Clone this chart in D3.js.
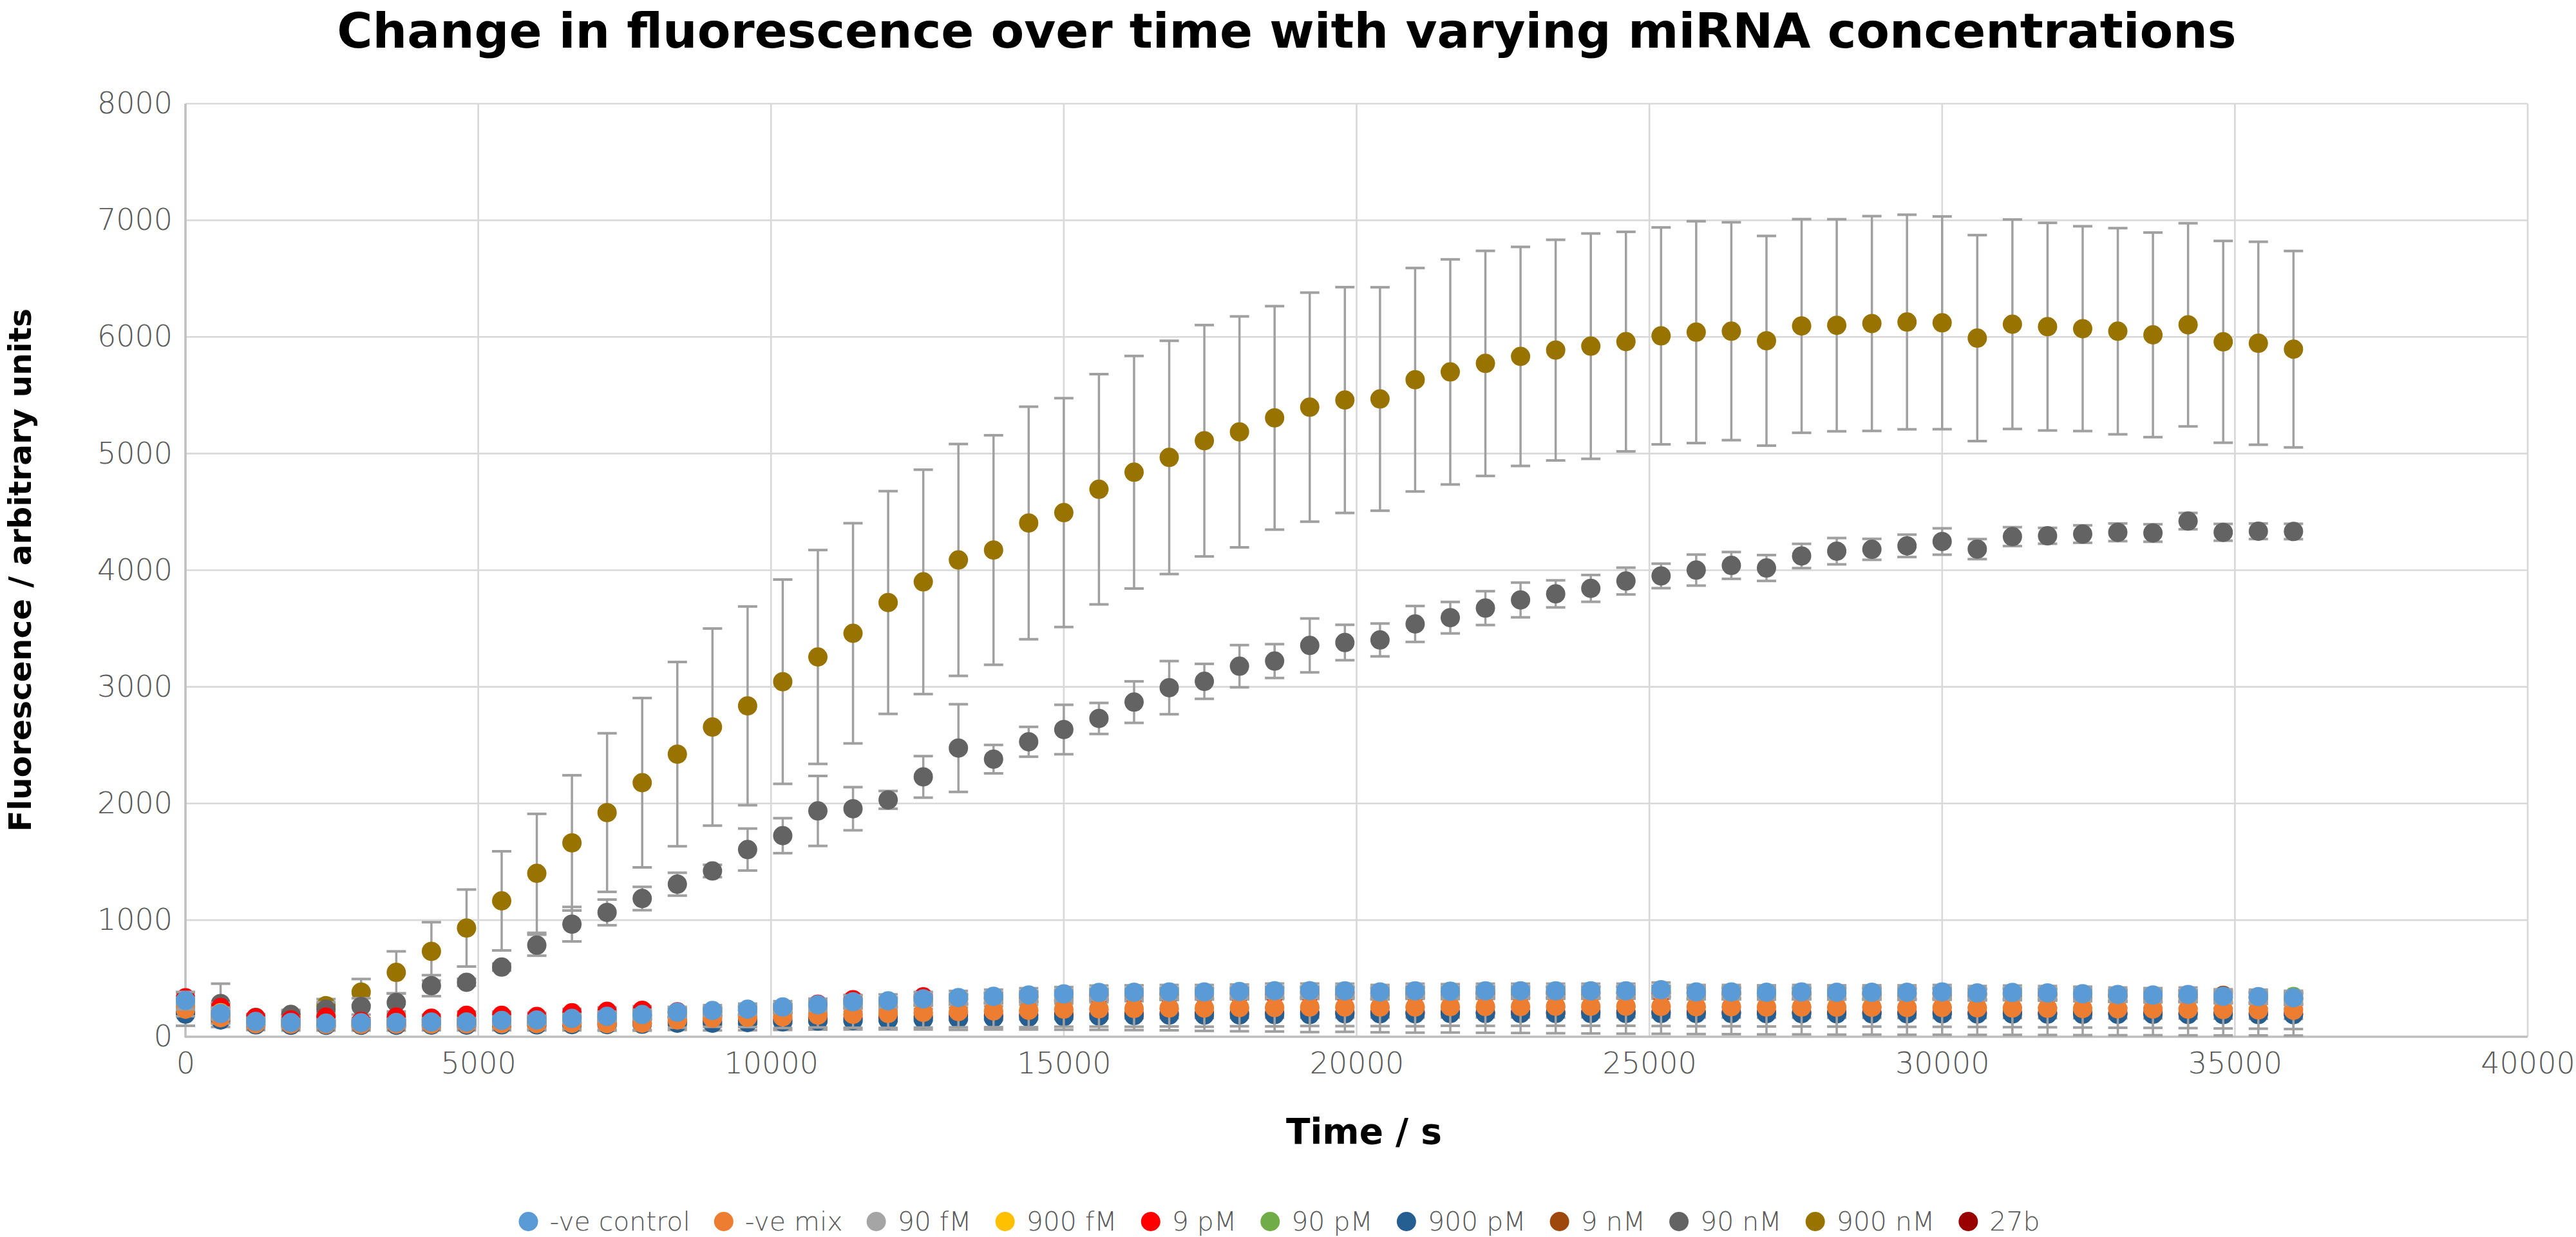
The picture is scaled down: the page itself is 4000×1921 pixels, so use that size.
<!DOCTYPE html>
<html>
<head>
<meta charset="utf-8">
<script src="https://cdn.jsdelivr.net/npm/d3@7"></script>
<style>
  body { margin: 0; background: #fff; }
  svg { display: block; }
</style>
</head>
<body>
<div id="chart"></div>
<script>
//data
var times = [0,600,1200,1800,2400,3000,3600,4200,4800,5400,
  6000,6600,7200,7800,8400,9000,9600,10200,10800,11400,
  12000,12600,13200,13800,14400,15000,15600,16200,16800,17400,
  18000,18600,19200,19800,20400,21000,21600,22200,22800,23400,
  24000,24600,25200,25800,26400,27000,27600,28200,28800,29400,
  30000,30600,31200,31800,32400,33000,33600,34200,34800,35400,
  36000];

var seriesNames = ['-ve control','-ve mix','90 fM','900 fM','9 pM','90 pM','900 pM','9 nM','90 nM','900 nM','27b'];
var seriesColors = ['#5B9BD5','#ED7D31','#A5A5A5','#FFC000','#FF0000','#70AD47','#255E91','#9E480E','#636363','#997300','#990000'];

var veControl = [310,200,131,122,116,120,122,126,126,140,
  144,157,175,190,211,225,236,255,274,300,
  308,325,336,346,358,367,379,381,384,384,
  388,395,395,394,384,394,390,394,394,394,
  394,394,403,384,384,381,384,381,381,381,
  384,375,379,375,369,362,357,362,347,344,
  334];
var veControlErr = [74,50,32,30,30,30,30,32,32,34,
  35,38,40,42,45,46,48,50,52,54,
  55,56,57,58,58,59,60,60,60,60,
  60,61,61,61,60,61,61,61,61,61,
  61,61,62,60,60,60,60,60,60,60,
  60,60,60,60,60,60,60,60,60,60,
  60];

var veMix = [236,163,111,108,106,106,108,108,110,112,
  112,115,112,116,144,160,168,170,185,192,
  200,209,216,222,227,236,240,242,246,246,
  251,251,255,255,255,255,259,259,259,261,
  261,262,260,258,258,255,255,253,253,250,
  250,248,246,244,242,240,238,236,233,230,
  227];
var veMixErr = [60,50,35,35,35,35,35,38,40,42,
  45,48,52,58,66,75,85,95,105,115,
  124,130,135,140,145,150,153,156,158,160,
  161,162,163,164,164,165,165,166,166,167,
  167,168,168,168,168,167,167,166,166,165,
  165,164,164,163,163,163,162,162,162,161,
  161];

var fM90 = [290,185,125,115,112,115,118,120,122,133,
  138,150,166,182,200,214,225,243,262,285,
  295,312,322,333,345,354,364,368,370,371,
  375,380,381,381,373,380,378,381,381,380,
  380,381,388,372,372,369,371,369,369,368,
  371,362,366,362,356,350,345,348,336,332,
  322];
var fM90Err = [40,35,25,25,25,25,25,26,26,28,
  28,30,30,32,34,35,36,38,40,42,
  42,44,45,46,46,47,48,48,48,48,
  49,49,49,50,50,50,50,50,50,50,
  50,50,50,50,50,50,50,50,50,50,
  50,50,50,50,50,50,50,50,50,50,
  50];

var fM900 = [300,205,128,118,114,117,120,123,124,136,
  140,153,170,185,205,218,230,248,268,292,
  300,318,328,339,350,360,371,374,377,377,
  381,387,388,387,378,387,383,386,387,386,
  387,387,395,378,377,374,377,375,374,374,
  377,368,372,368,362,355,350,355,341,338,
  330];
var fM900Err = [35,30,22,22,22,22,22,23,24,25,
  26,27,28,29,30,31,32,33,34,35,
  36,36,37,38,38,39,39,40,40,40,
  40,41,41,41,41,41,42,42,42,42,
  42,42,42,42,42,42,42,42,42,42,
  42,42,42,42,42,42,42,42,42,42,
  42];

var pM9 = [334,251,163,144,168,131,168,159,183,183,
  174,205,218,227,214,215,225,240,279,318,
  290,342,320,330,340,350,355,360,362,365,
  366,368,370,370,368,372,370,372,372,373,
  373,374,374,372,370,368,368,366,366,364,
  364,360,360,357,352,348,344,344,336,332,
  325];
var pM9Err = [45,40,30,30,30,30,30,30,32,32,
  32,34,34,35,35,36,36,37,38,40,
  40,42,42,43,44,44,45,45,45,46,
  46,46,47,47,47,47,48,48,48,48,
  48,48,48,48,48,48,48,48,48,48,
  48,48,48,48,48,48,48,48,48,48,
  48];

var pM90 = [280,180,120,112,110,112,115,117,119,128,
  132,143,160,175,193,206,217,233,252,275,
  284,300,311,321,333,341,351,355,358,358,
  362,368,368,367,359,367,364,367,367,367,
  367,368,375,359,360,357,360,358,358,357,
  360,352,356,353,347,341,337,340,330,333,
  345];
var pM90Err = [30,28,20,20,20,20,20,21,22,22,
  23,24,25,26,27,28,29,30,31,32,
  33,34,34,35,35,36,36,37,37,37,
  38,38,38,38,38,38,38,38,38,38,
  38,38,38,38,38,38,38,38,38,38,
  38,38,38,38,38,38,38,38,38,38,
  38];

var pM900 = [194,144,102,98,98,98,98,100,100,102,
  102,104,104,107,116,116,122,128,135,140,
  144,150,155,162,168,172,177,181,185,185,
  187,190,190,196,196,196,200,200,200,200,
  200,200,200,199,199,198,198,197,197,196,
  196,195,195,194,193,192,192,191,190,190,
  189];
var pM900Err = [100,60,45,45,45,45,45,45,46,47,
  48,50,52,55,58,62,66,70,74,78,
  82,88,96,100,106,112,118,124,130,135,
  140,145,150,154,158,161,164,166,168,170,
  172,174,175,176,177,178,178,179,179,179,
  179,179,179,179,179,179,179,179,179,179,
  179];

var nM9 = [295,190,126,116,113,116,119,121,123,134,
  138,151,168,184,203,216,228,246,265,288,
  298,315,326,336,348,357,368,371,374,374,
  378,384,385,384,376,384,380,384,384,383,
  384,384,392,376,376,373,376,373,373,372,
  375,366,370,366,360,354,349,354,355,340,
  330];
var nM9Err = [38,32,24,24,24,24,24,25,25,26,
  27,28,29,30,31,32,33,34,35,36,
  37,38,39,40,40,41,41,42,42,42,
  43,43,43,43,43,43,44,44,44,44,
  44,44,44,44,44,44,44,44,44,44,
  44,44,44,44,44,44,44,44,44,44,
  44];

var nM90 = [260,285,165,190,236,260,294,438,467,597,
  785,965,1066,1185,1308,1421,1605,1724,1936,1955,
  2031,2228,2475,2380,2529,2634,2729,2869,2993,3047,
  3177,3221,3355,3380,3402,3539,3593,3675,3745,3797,
  3844,3907,3951,4001,4041,4019,4122,4163,4179,4209,
  4246,4181,4288,4295,4310,4325,4319,4421,4325,4334,
  4332];
var nM90Err = [30,170,30,40,60,70,77,90,30,30,
  90,148,110,100,98,53,180,150,300,185,
  76,178,376,122,128,212,133,178,228,150,
  181,145,231,152,141,154,135,145,149,116,
  115,115,105,133,115,111,104,113,90,96,
  113,86,81,68,75,76,75,70,72,67,
  66];

var nM900 = [230,200,150,190,266,383,552,732,932,1165,
  1401,1662,1922,2178,2423,2655,2837,3044,3256,3459,
  3723,3900,4088,4173,4405,4494,4694,4840,4967,5110,
  5186,5306,5398,5459,5468,5633,5700,5773,5833,5887,
  5921,5960,6009,6041,6049,5967,6094,6100,6115,6128,
  6121,5990,6109,6088,6071,6049,6018,6104,5958,5946,
  5895];
var nM900Err = [20,20,20,30,57,112,180,250,330,425,
  510,580,680,726,790,845,852,876,917,944,
  955,962,994,984,997,981,987,997,1000,992,
  990,958,982,968,958,958,965,965,939,946,
  966,941,930,951,934,899,916,909,921,920,
  912,883,898,890,878,884,877,871,865,870,
  842];

var b27 = [210,150,105,100,100,100,102,104,105,108,
  110,112,115,120,128,132,138,145,152,160,
  165,170,176,181,186,190,194,197,199,200,
  202,204,205,206,206,207,208,208,209,209,
  210,210,210,209,209,208,208,207,207,206,
  206,205,205,204,203,202,202,201,200,199,
  198];
var b27Err = [30,25,20,20,20,20,20,20,21,22,
  22,23,24,25,26,27,28,29,30,31,
  32,33,34,35,36,37,38,39,40,40,
  41,41,42,42,42,43,43,43,44,44,
  44,44,45,45,45,45,45,45,45,45,
  45,45,45,45,45,45,45,45,45,45,
  45];

var xTicks = [0,5000,10000,15000,20000,25000,30000,35000,40000];
var yTicks = [0,1000,2000,3000,4000,5000,6000,7000,8000];
//end data

var seriesValues = [veControl, veMix, fM90, fM900, pM9, pM90, pM900, nM9, nM90, nM900, b27];
var seriesErrors = [veControlErr, veMixErr, fM90Err, fM900Err, pM9Err, pM90Err, pM900Err, nM9Err, nM90Err, nM900Err, b27Err];

var series = seriesNames.map(function(name, i){
    return {
        name: name,
        color: seriesColors[i],
        points: times.map(function(t, j){
            return {t: t, v: seriesValues[i][j], e: seriesErrors[i][j]};
        })
    };
});

var width = 4000, height = 1921;
var plot = {left: 288, right: 3925, top: 161, bottom: 1610};
var tickFont = "'DejaVu Sans', sans-serif";
var boldFont = "'DejaVu Sans', sans-serif";
var textGrey = '#595959';

var svg = d3.select('#chart').append('svg')
    .attr('width', width)
    .attr('height', height);

svg.append('rect').attr('width', width).attr('height', height).attr('fill', '#fff');

var x = d3.scaleLinear().domain([0, 40000]).range([plot.left, plot.right]);
var y = d3.scaleLinear().domain([0, 8000]).range([plot.bottom, plot.top]);

//grid
var gGrid = svg.append('g').attr('class', 'grid');
gGrid.selectAll('line.h')
    .data(yTicks.filter(function(d){ return d > 0; }))
    .enter().append('line')
    .attr('x1', plot.left).attr('x2', plot.right)
    .attr('y1', function(d){ return y(d); })
    .attr('y2', function(d){ return y(d); })
    .attr('stroke', '#D9D9D9').attr('stroke-width', 2.7);
gGrid.selectAll('line.v')
    .data(xTicks.filter(function(d){ return d > 0; }))
    .enter().append('line')
    .attr('y1', plot.top).attr('y2', plot.bottom)
    .attr('x1', function(d){ return x(d); })
    .attr('x2', function(d){ return x(d); })
    .attr('stroke', '#D9D9D9').attr('stroke-width', 2.7);

//axis lines
svg.append('line')
    .attr('x1', plot.left).attr('x2', plot.left)
    .attr('y1', plot.top).attr('y2', plot.bottom + 1.5)
    .attr('stroke', '#BFBFBF').attr('stroke-width', 3.5);
svg.append('line')
    .attr('x1', plot.left).attr('x2', plot.right)
    .attr('y1', plot.bottom).attr('y2', plot.bottom)
    .attr('stroke', '#BFBFBF').attr('stroke-width', 3.5);

//tick labels
var yAxis = svg.append('g')
    .attr('transform', 'translate(' + plot.left + ',0)')
    .call(d3.axisLeft(y).tickValues(yTicks).tickSize(0).tickPadding(20).tickFormat(d3.format('d')));
var xAxis = svg.append('g')
    .attr('transform', 'translate(0,' + plot.bottom + ')')
    .call(d3.axisBottom(x).tickValues(xTicks).tickSize(0).tickPadding(24).tickFormat(d3.format('d')));
[xAxis, yAxis].forEach(function(ax){
    ax.select('.domain').remove();
    ax.selectAll('text')
        .attr('fill', textGrey)
        .style('font-family', tickFont)
        .style('font-weight', 200)
        .style('font-size', '46px');
});

//series, drawn last-to-first so -ve control sits on top
var gSeries = svg.append('g').attr('class', 'series');
var errColor = '#A0A0A0';
var capHalf = 15;

series.slice().reverse().forEach(function(s){
    var g = gSeries.append('g');
    var withErr = s.points.filter(function(p){ return p.e > 0; });

    g.selectAll('line.stem')
        .data(withErr)
        .enter().append('line')
        .attr('x1', function(p){ return x(p.t); })
        .attr('x2', function(p){ return x(p.t); })
        .attr('y1', function(p){ return y(p.v - p.e); })
        .attr('y2', function(p){ return y(p.v + p.e); })
        .attr('stroke', errColor).attr('stroke-width', 3.5);

    ['lo', 'hi'].forEach(function(side){
        g.selectAll('line.cap' + side)
            .data(withErr)
            .enter().append('line')
            .attr('x1', function(p){ return x(p.t) - capHalf; })
            .attr('x2', function(p){ return x(p.t) + capHalf; })
            .attr('y1', function(p){ return y(side === 'lo' ? p.v - p.e : p.v + p.e); })
            .attr('y2', function(p){ return y(side === 'lo' ? p.v - p.e : p.v + p.e); })
            .attr('stroke', errColor).attr('stroke-width', 4);
    });

    g.selectAll('circle')
        .data(s.points)
        .enter().append('circle')
        .attr('cx', function(p){ return x(p.t); })
        .attr('cy', function(p){ return y(p.v); })
        .attr('r', 15)
        .attr('fill', s.color);
});

//fit a text node to a measured width
function fitText(sel, target, startSize){
    sel.style('font-size', startSize + 'px');
    var w = sel.node().getComputedTextLength();
    sel.style('font-size', (startSize * target / w) + 'px');
}

//title
var title = svg.append('text')
    .attr('x', 1998).attr('y', 74)
    .attr('text-anchor', 'middle')
    .attr('fill', '#000')
    .style('font-family', boldFont)
    .style('font-weight', 'bold')
    .text('Change in fluorescence over time with varying miRNA concentrations');
fitText(title, 2950, 70);

//axis titles
var xTitle = svg.append('text')
    .attr('x', 2118).attr('y', 1776)
    .attr('text-anchor', 'middle')
    .attr('fill', '#000')
    .style('font-family', boldFont)
    .style('font-weight', 'bold')
    .text('Time / s');
fitText(xTitle, 242, 50);

var yTitle = svg.append('text')
    .attr('transform', 'translate(48,' + ((plot.top + plot.bottom) / 2) + ') rotate(-90)')
    .attr('text-anchor', 'middle')
    .attr('fill', '#000')
    .style('font-family', boldFont)
    .style('font-weight', 'bold')
    .text('Fluorescence / arbitrary units');
fitText(yTitle, 813, 46);

//legend
var legendY = 1897;
var gLegend = svg.append('g').attr('class', 'legend');
var items = gLegend.selectAll('g')
    .data(series)
    .enter().append('g');
items.append('circle')
    .attr('r', 15)
    .attr('cy', legendY)
    .attr('fill', function(d){ return d.color; });
items.append('text')
    .attr('y', legendY)
    .attr('dy', '0.35em')
    .attr('fill', textGrey)
    .style('font-family', tickFont)
    .style('font-weight', 200)
    .style('font-size', '41px')
    .text(function(d){ return d.name; });

var textGap = 33, itemGap = 52;
var widths = [];
items.selectAll('text').each(function(){ widths.push(this.getComputedTextLength()); });
var total = d3.sum(widths) + series.length * textGap + (series.length - 1) * itemGap;
var cursor = 1994 - total / 2;
items.each(function(d, i){
    var it = d3.select(this);
    it.select('circle').attr('cx', cursor);
    it.select('text').attr('x', cursor + textGap);
    cursor += textGap + widths[i] + itemGap;
});
</script>
</body>
</html>
